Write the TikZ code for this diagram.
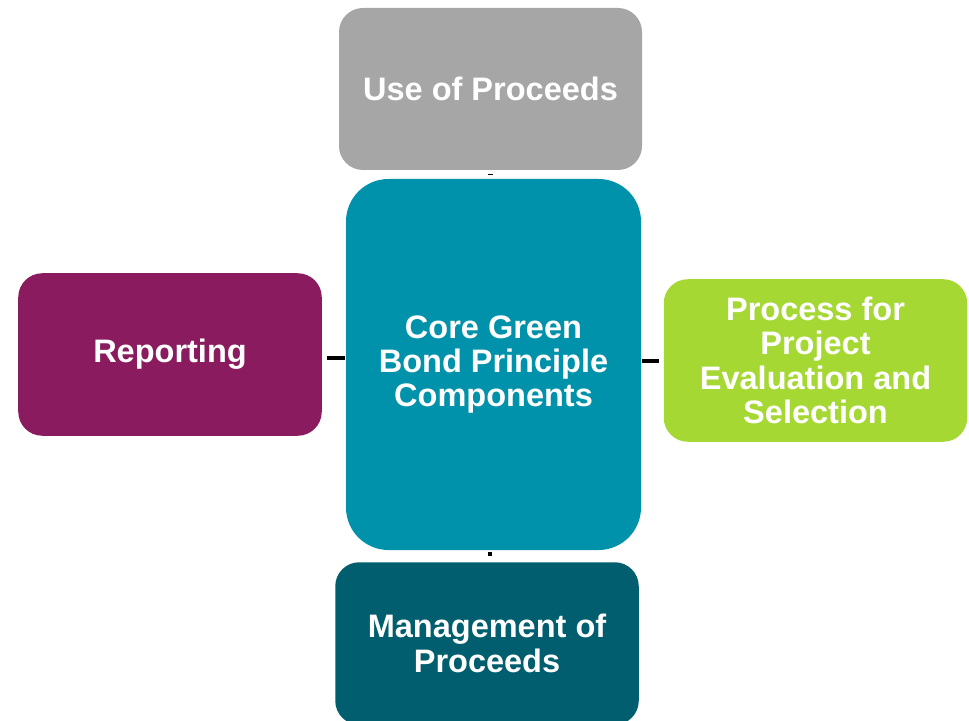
\documentclass[tikz,border=0pt]{standalone}
\usepackage{fontspec}
\setmainfont{Liberation Sans}
\usepackage{xcolor}
\usepackage{tikz}
\usetikzlibrary{positioning}

\definecolor{usegray}{HTML}{A6A6A6}
\definecolor{coreteal}{HTML}{0092AA}
\definecolor{reppurple}{HTML}{8A1B5E}
\definecolor{procgreen}{HTML}{A5D833}
\definecolor{mandark}{HTML}{005E6E}

\begin{document}
\begin{tikzpicture}[
    box/.style={rectangle, rounded corners=0.48cm, minimum width=6.07cm, minimum height=3.25cm,
        text=white, align=center, inner sep=0pt,
        font=\fontsize{18.5}{19.6}\selectfont\bfseries},
    link/.style={draw=black, line width=0.08cm}
]
    \useasboundingbox (0,0) rectangle (19.38,14.4);

    % Nodes
    \node (core) [box, fill=coreteal, rounded corners=0.85cm, minimum width=5.9cm, minimum height=7.42cm] at (9.87,7.11) {Core Green\\Bond Principle\\Components};
    \node (use) [box, fill=usegray, minimum width=6.06cm, minimum height=3.24cm] at (9.81,12.62) {Use of Proceeds};
    \node (rep) [box, fill=reppurple] at (3.4,7.31) {Reporting};
    \node (proc) [box, fill=procgreen] at (16.31,7.19) {Process for\\Project\\Evaluation and\\Selection};
    \node (man) [box, fill=mandark] at (9.74,1.53) {Management of\\Proceeds};

    % Short links between the boxes
    \draw[link, line width=0.1cm, shorten <=0.08cm, shorten >=0.08cm] (use.south -| 9.8,0) -- (core.north -| 9.8,0);
    \draw[link, shorten <=0.1cm, shorten >=0.02cm] ([yshift=-0.07cm]rep.east) -- ([yshift=-0.07cm]rep.east -| core.west);
    \draw[link, shorten <=0.02cm, shorten >=0.08cm] (proc.west -| core.east) -- (proc.west);
    \draw[link, shorten <=0.04cm, shorten >=0.12cm] (core.south -| 9.8,0) -- (man.north -| 9.8,0);

\end{tikzpicture}
\end{document}
